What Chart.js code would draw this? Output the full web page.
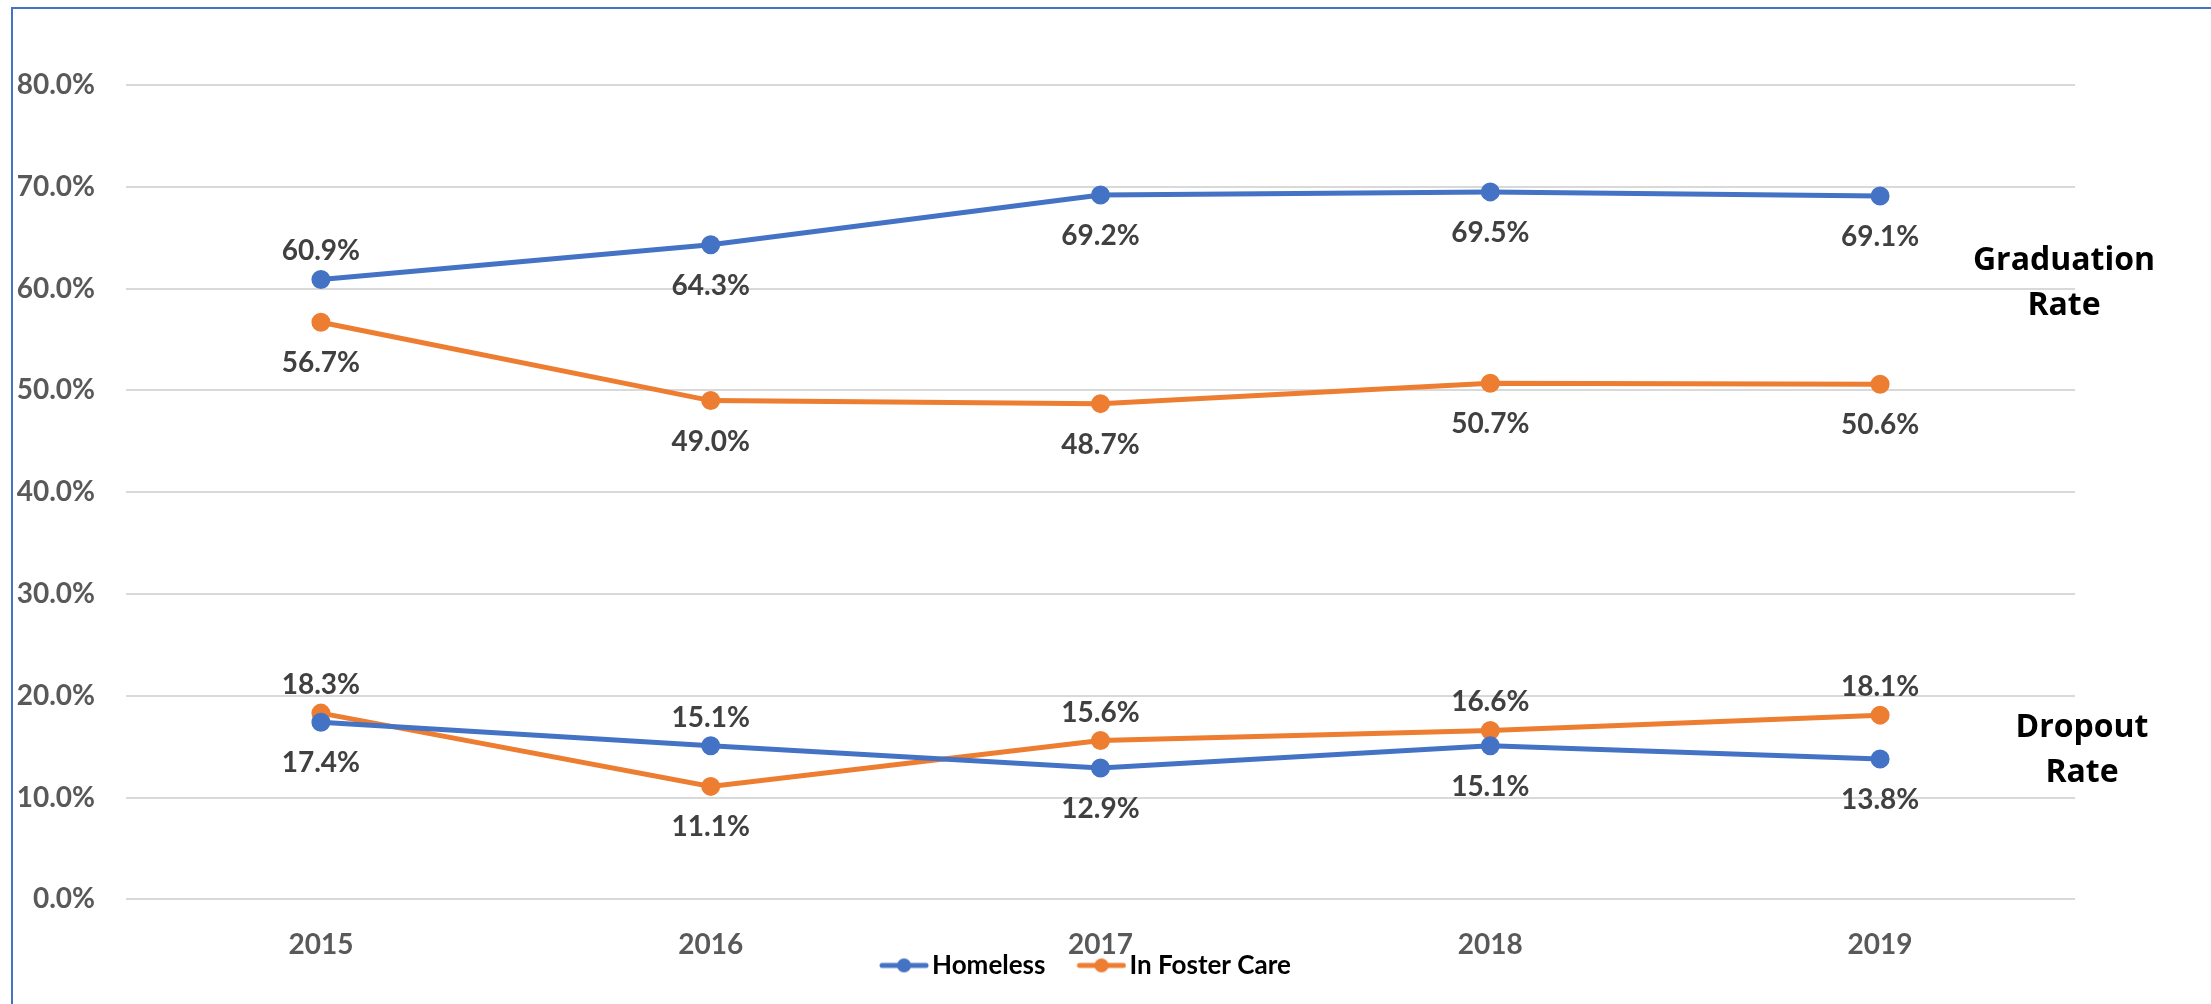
<!DOCTYPE html>
<html>
<head>
<meta charset="utf-8">
<title>Graduation and Dropout Rates</title>
<script src="https://cdn.jsdelivr.net/npm/chart.js@4.4.1/dist/chart.umd.min.js"></script>
<style>
  html, body { margin: 0; padding: 0; background: #fff; }
  #wrap { position: relative; width: 2211px; height: 1004px; overflow: hidden; }
  #frame { position: absolute; left: 11px; top: 7px; width: 2400px; height: 1200px;
           border-left: 2px solid #4472C4; border-top: 2px solid #4472C4; pointer-events: none; }
  canvas { position: absolute; left: 0; top: 0; }
</style>
</head>
<body>
<div id="wrap">
  <div id="frame"></div>
  <canvas id="rateChart" width="2211" height="1004"></canvas>
</div>
<script>
// data
const years = ["2015", "2016", "2017", "2018", "2019"];
const homelessGrad = [60.9, 64.3, 69.2, 69.5, 69.1];
const fosterGrad = [56.7, 49.0, 48.7, 50.7, 50.6];
const homelessDrop = [17.4, 15.1, 12.9, 15.1, 13.8];
const fosterDrop = [18.3, 11.1, 15.6, 16.6, 18.1];
const seriesNames = ["Homeless", "In Foster Care"];
const sideTitles = [["Graduation", "Rate"], ["Dropout", "Rate"]];

const BLUE = '#4472C4';
const ORANGE = '#ED7D31';
const FONT = 'Lato';

// legend marker: short line with a dot, pushed to the right of a wider canvas
function marker(color) {
    let c = document.createElement('canvas');
    c.width = 81; c.height = 16;
    let g = c.getContext('2d');
    g.strokeStyle = color; g.lineWidth = 5; g.lineCap = 'round';
    g.beginPath(); g.moveTo(34, 8); g.lineTo(78, 8); g.stroke();
    g.fillStyle = color;
    g.beginPath(); g.arc(56, 8, 7, 0, Math.PI * 2); g.fill();
    return c;
}

function series(data, color, above) {
    return {
        data: data,
        borderColor: color,
        backgroundColor: color,
        pointBackgroundColor: color,
        pointBorderColor: color,
        borderWidth: 5,
        pointRadius: 7,
        pointHoverRadius: 7,
        tension: 0,
        labelAbove: above
    };
}

// value labels and the two side titles
const labelPlugin = {
    id: 'valueLabels',
    afterDatasetsDraw(chart) {
        const ctx = chart.ctx;
        ctx.save();
        ctx.font = 'bold 28px ' + FONT;
        ctx.fillStyle = '#404040';
        ctx.textAlign = 'center';
        ctx.textBaseline = 'middle';
        chart.data.datasets.forEach((ds, i) => {
            chart.getDatasetMeta(i).data.forEach((pt, j) => {
                let dy = ds.labelAbove[j] ? -28 : 41;
                ctx.fillText(ds.data[j].toFixed(1) + '%', pt.x, pt.y + dy);
            });
        });

        const y = chart.scales.y;
        const right = chart.chartArea.right;
        ctx.font = 'bold 32px "Open Sans"';
        ctx.fillStyle = '#000';
        const spots = [[right - 11, y.getPixelForValue(60.6)], [right + 7, y.getPixelForValue(14.7)]];
        sideTitles.forEach((lines, k) => {
            ctx.fillText(lines[0], spots[k][0], spots[k][1] - 22);
            ctx.fillText(lines[1], spots[k][0], spots[k][1] + 23);
        });
        ctx.restore();
    }
};

// put the legend just under the year labels, a bit left of centre
const legendPlace = {
    id: 'legendPlace',
    afterLayout(chart) {
        const lg = chart.legend;
        const area = chart.chartArea;
        const dx = (area.left + area.right) / 2 - 26 - (lg.left + lg.right) / 2;
        const dy = area.bottom + 66 - (lg.top + lg.bottom) / 2;
        lg.left += dx; lg.right += dx;
        lg.top += dy; lg.bottom += dy;
    }
};

function build() {
    Chart.defaults.font.family = FONT;
    const ctx = document.getElementById('rateChart').getContext('2d');
    new Chart(ctx, {
        type: 'line',
        data: {
            labels: years,
            datasets: [
                series(homelessGrad, BLUE, [true, false, false, false, false]),
                series(fosterGrad, ORANGE, [false, false, false, false, false]),
                series(homelessDrop, BLUE, [false, true, false, false, false]),
                series(fosterDrop, ORANGE, [true, false, true, true, true])
            ]
        },
        options: {
            responsive: false,
            animation: false,
            layout: { padding: { left: 0, right: 136, top: 85, bottom: -25 } },
            plugins: {
                tooltip: { enabled: false },
                legend: {
                    position: 'bottom',
                    labels: {
                        usePointStyle: true,
                        pointStyleWidth: 61,
                        padding: 10,
                        color: '#595959',
                        font: { size: 26, weight: 'bold' },
                        generateLabels: () => seriesNames.map((name, i) => ({
                            text: name,
                            pointStyle: marker(i === 0 ? BLUE : ORANGE),
                            fillStyle: i === 0 ? BLUE : ORANGE,
                            strokeStyle: i === 0 ? BLUE : ORANGE,
                            lineWidth: 0,
                            hidden: false,
                            datasetIndex: i
                        }))
                    },
                    onClick: () => {}
                }
            },
            scales: {
                x: {
                    offset: true,
                    grid: { display: false },
                    border: { display: false },
                    ticks: { color: '#595959', font: { size: 28, weight: 'bold' }, padding: 21 }
                },
                y: {
                    min: 0,
                    max: 80,
                    grid: { color: '#D9D9D9', lineWidth: 2, drawTicks: false },
                    border: { display: false },
                    ticks: {
                        stepSize: 10,
                        padding: 31,
                        color: '#595959',
                        font: { size: 28, weight: 'bold' },
                        callback: v => v.toFixed(1) + '%'
                    },
                    afterFit: s => { s.width = 126; }
                }
            }
        },
        plugins: [labelPlugin, legendPlace]
    });
}

if (document.fonts && document.fonts.load) {
    Promise.all([document.fonts.load('bold 28px Lato'), document.fonts.load('bold 32px "Open Sans"')])
        .then(build, build);
} else {
    build();
}
</script>
</body>
</html>
